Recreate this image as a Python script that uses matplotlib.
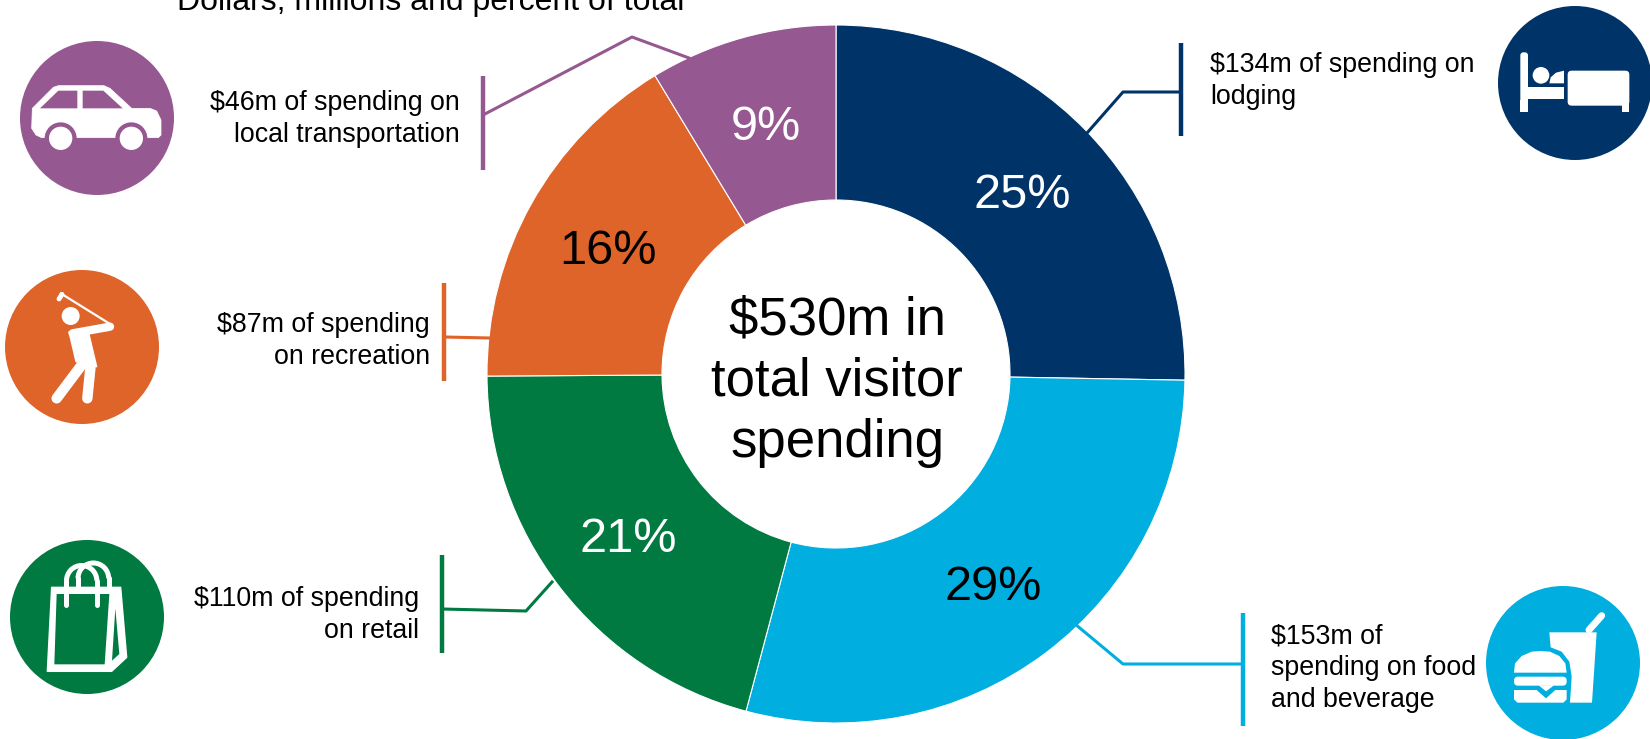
"""
Donut of total visitor spending with icon badges round it.
The whole figure is one axes in pixel units, y pointing down.
"""
import matplotlib
matplotlib.use("Agg")
import matplotlib.pyplot as plt
from matplotlib.patches import Circle, Polygon, FancyBboxPatch, Arc

plt.rcParams['font.family'] = ['Liberation Sans', 'DejaVu Sans']

categories = ["Lodging", "Food and beverage", "Retail", "Recreation", "Local transportation"]
spending = [134, 153, 110, 87, 46]
shares = ["25%", "29%", "21%", "16%", "9%"]
share_colors = ["white", "black", "white", "black", "white"]
colors = ["#003468", "#00AEDF", "#007A40", "#DF642A", "#965891"]
notes = ["$134m of spending on\nlodging",
         "$153m of\nspending on food\nand beverage",
         "$110m of spending\non retail",
         "$87m of spending\non recreation",
         "$46m of spending on\nlocal transportation"]
center_text = "$530m in\ntotal visitor\nspending"
subtitle = "Dollars, millions and percent of total"

W, H = 1650, 739
fig = plt.figure(figsize=(W / 100, H / 100), dpi=100)
ax = fig.add_axes([0, 0, 1, 1])

ax.pie(spending, startangle=-90, counterclock=True, radius=349, center=(836, 374), colors=colors,
       wedgeprops=dict(width=175, edgecolor="white", linewidth=0.8))
ax.set_xlim(0, W)
ax.set_ylim(H, 0)
ax.set_aspect("equal")
ax.axis("off")

share_pos = [(1022, 196), (993, 588), (628, 540), (608, 252), (766, 127)]
for s, c, p in zip(shares, share_colors, share_pos):
    ax.text(p[0], p[1], s, color=c, fontsize=35, ha="center", va="center")
ax.text(837, 457, center_text, fontsize=38, ha="center", va="baseline", linespacing=1.29)
ax.text(177, 10, subtitle, fontsize=23, ha="left", va="baseline", clip_on=False)

# leader lines: bar first, then elbow
bars = [(1181, 43, 136), (1243, 613, 726), (442, 555, 653), (444, 283, 381), (483, 76, 170)]
leaders = [[(1181, 92), (1123, 92), (1087, 133)],
           [(1243, 664), (1123, 664), (1075, 624)],
           [(442, 609), (526, 611), (552, 582)],
           [(444, 337), (490, 338)],
           [(483, 115), (632, 37), (689, 58)]]
for b, l, c in zip(bars, leaders, colors):
    ax.plot([b[0], b[0]], [b[1], b[2]], color=c, lw=3.2, solid_capstyle="butt")
    ax.plot([q[0] for q in l], [q[1] for q in l], color=c, lw=2.2)

note_pos = [(1210, 81, "left"), (1271, 668, "left"), (419, 615, "right"), (430, 341, "right"), (460, 119, "right")]
for n, p in zip(notes, note_pos):
    ax.text(p[0], p[1], n, fontsize=19.3, ha=p[2], va="center", linespacing=1.28)

badges = [(1575, 83), (1563, 663), (87, 617), (82, 347), (97, 118)]
for b, c in zip(badges, colors):
    ax.add_patch(Circle(b, 77, color=c, lw=0))


# icon shapes below are given in 3x zoom coordinates of their crop
def poly(pts, ox, oy, color="white", lw=0.0):
    ax.add_patch(Polygon([(ox + x / 3, oy + y / 3) for x, y in pts], closed=True, fc=color, ec=color,
                         lw=lw, joinstyle="round", zorder=4))


def stroke(pts, ox, oy, lw, color="white", cap="round"):
    ax.plot([ox + x / 3 for x, y in pts], [oy + y / 3 for x, y in pts], color=color, lw=lw,
            solid_capstyle=cap, solid_joinstyle="round", zorder=4)


def dot(x, y, r, ox, oy, color="white"):
    ax.add_patch(Circle((ox + x / 3, oy + y / 3), r / 3, fc=color, ec="none", zorder=4))


def box(x0, y0, x1, y1, ox, oy, rnd=0.0):
    ax.add_patch(FancyBboxPatch((ox + x0 / 3 + rnd, oy + y0 / 3 + rnd), (x1 - x0) / 3 - 2 * rnd,
                                (y1 - y0) / 3 - 2 * rnd, boxstyle="round,pad=%f,rounding_size=%f" % (rnd, rnd),
                                fc="white", ec="none", zorder=4))


# car
purple = colors[4]
poly([(97, 325), (160, 262), (175, 257), (312, 257), (330, 265), (395, 325), (450, 325), (470, 333),
      (483, 360), (483, 405), (475, 413), (125, 413), (108, 405), (95, 385)], 0, 0, lw=0.5)
poly([(120, 325), (175, 272), (232, 272), (232, 325)], 0, 0, color=purple)
poly([(248, 325), (248, 272), (310, 272), (368, 325)], 0, 0, color=purple)
for wx in (182, 394):
    dot(wx, 415, 48, 0, 0, color=purple)
    dot(wx, 415, 35, 0, 0)

# golfer
stroke([(182, 130), (335, 225)], 0, 250, 1.6)
stroke([(177, 147), (186, 133)], 0, 250, 3.5)
dot(212, 198, 27, 0, 250)
stroke([(218, 250), (330, 230)], 0, 250, 6.0)
poly([(207, 245), (265, 245), (290, 350), (228, 335)], 0, 250, lw=1)
stroke([(245, 345), (170, 445)], 0, 250, 7.5)
stroke([(272, 345), (262, 445)], 0, 250, 7.5)

# shopping bag
green = colors[2]
poly([(155, 1012), (362, 1012), (380, 1222), (335, 1264), (142, 1264)], 0, 250, lw=1)
poly([(170, 1032), (328, 1032), (314, 1243), (163, 1243)], 0, 250, color=green)
poly([(346, 1075), (358, 1212), (336, 1232)], 0, 250, color=green)
stroke([(199, 1065), (199, 992)], 0, 250, 3.6)
stroke([(290, 1065), (290, 992)], 0, 250, 3.6)
stroke([(234, 1012), (234, 985)], 0, 250, 3.6)
stroke([(326, 1012), (326, 985)], 0, 250, 3.6)
ax.add_patch(Arc((245 / 3, 250 + 992 / 3), 91 / 3, 91 / 3, theta1=180, theta2=360, ec="white", lw=3.6, zorder=4))
ax.add_patch(Arc((280 / 3, 250 + 985 / 3), 92 / 3, 92 / 3, theta1=180, theta2=360, ec="white", lw=3.6, zorder=4))

# bed
box(241, 157, 264, 335, 1440, 0, rnd=3)
poly([(241, 300), (264, 300), (264, 335), (241, 335)], 1440, 0)
poly([(264, 262), (372, 262), (372, 297), (264, 297)], 1440, 0)
dot(303, 226, 25, 1440, 0)
poly([(328, 250), (332, 232), (348, 218), (372, 212), (372, 250)], 1440, 0)
box(383, 212, 568, 317, 1440, 0, rnd=4)
poly([(546, 300), (568, 300), (568, 335), (546, 335)], 1440, 0)

# burger and cup
stroke([(447, 180), (485, 137)], 1440, 570, 5.0)
poly([(328, 187), (470, 187), (456, 398), (390, 398), (395, 320), (388, 275), (365, 245), (332, 232)], 1440, 570)
poly([(222, 308), (225, 280), (245, 258), (275, 245), (300, 243), (330, 245), (358, 258), (376, 280), (380, 308)],
     1440, 570)
box(222, 320, 380, 347, 1440, 570, rnd=4)
poly([(296, 346), (342, 346), (318, 364)], 1440, 570)
poly([(222, 360), (290, 360), (318, 385), (346, 360), (380, 360), (380, 388), (370, 398), (232, 398), (222, 388)],
     1440, 570)

fig.savefig("out.png", dpi=100)
